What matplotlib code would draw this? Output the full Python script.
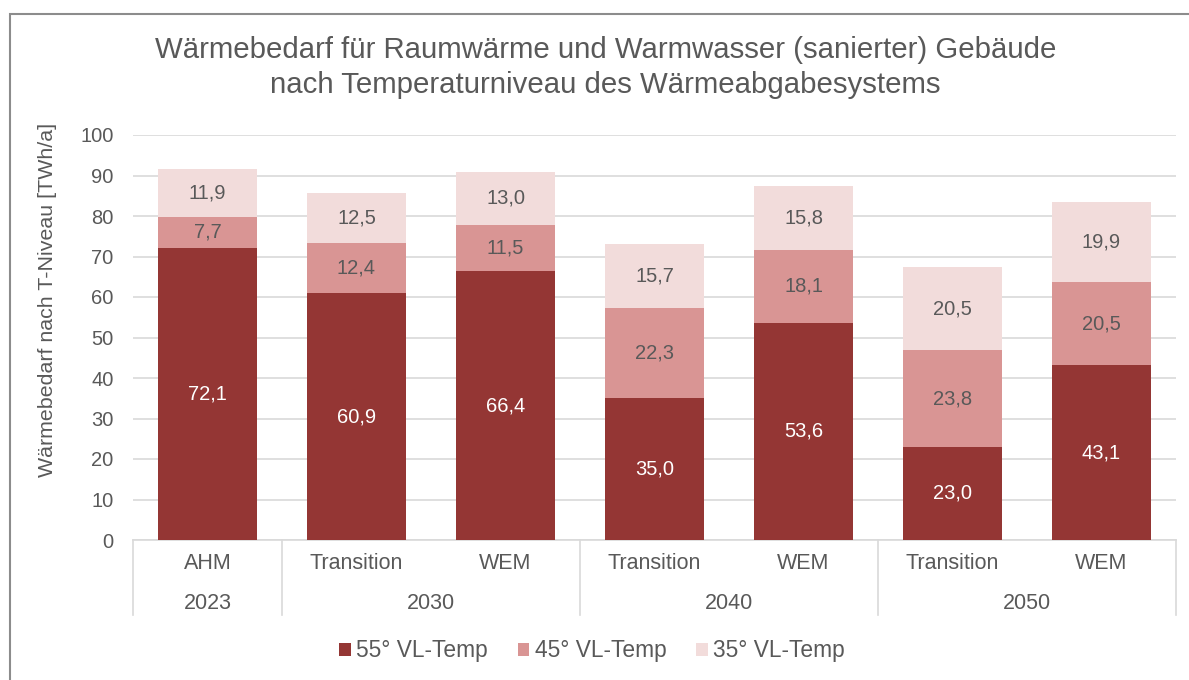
import matplotlib

matplotlib.use("Agg")
import matplotlib.pyplot as plt
from matplotlib.patches import Rectangle

plt.rcParams["font.family"] = ["Liberation Sans", "DejaVu Sans"]

# chart data (TWh/a)
scenarios = ["AHM", "Transition", "WEM", "Transition", "WEM", "Transition", "WEM"]
years = ["2023", "2030", "2040", "2050"]
year_spans = [(0, 0), (1, 2), (3, 4), (5, 6)]
vl55 = [72.1, 60.9, 66.4, 35.0, 53.6, 23.0, 43.1]
vl45 = [7.7, 12.4, 11.5, 22.3, 18.1, 23.8, 20.5]
vl35 = [11.9, 12.5, 13.0, 15.7, 15.8, 20.5, 19.9]
series_names = ["55° VL-Temp", "45° VL-Temp", "35° VL-Temp"]
y_ticks = [0, 10, 20, 30, 40, 50, 60, 70, 80, 90, 100]

TXT = "#595959"
GRID = "#D9D9D9"
colors = ["#943634", "#D99594", "#F2DCDB"]
label_colors = ["white", TXT, TXT]

fig = plt.figure(figsize=(11.89, 6.8), dpi=100)
ax = fig.add_axes([133 / 1189, 1 - 540 / 680, 1043 / 1189, 405 / 680])

x = list(range(len(scenarios)))
bottom = [0.0] * len(x)
for vals, col, lcol, name in zip([vl55, vl45, vl35], colors, label_colors, series_names):
    bars = ax.bar(x, vals, bottom=bottom, width=0.67, color=col, label=name, zorder=3)
    for b, v, b0 in zip(bars, vals, bottom):
        ax.text(b.get_x() + b.get_width() / 2, b0 + v / 2, f"{v:.1f}".replace(".", ","),
                ha="center", va="center", color=lcol, fontsize=14.5, zorder=4)
    bottom = [a + v for a, v in zip(bottom, vals)]

ax.set_xlim(-0.5, len(x) - 0.5)
ax.set_ylim(0, 100)
ax.set_yticks(y_ticks)
ax.tick_params(axis="y", length=0, labelsize=14.5, labelcolor=TXT, pad=14)
ax.set_xticks([])
ax.grid(True, axis="y", color=GRID, linewidth=1.2, zorder=0)
for s in ["top", "right", "left"]:
    ax.spines[s].set_visible(False)
ax.spines["bottom"].set_color(GRID)
ax.spines["bottom"].set_linewidth(1.2)
ax.set_ylabel("Wärmebedarf nach T-Niveau [TWh/a]", fontsize=15.4, color=TXT)
ax.yaxis.set_label_coords(-0.073, 0.593)

# two-level category axis
tr = ax.get_xaxis_transform()
for xi, s in zip(x, scenarios):
    ax.text(xi, -0.057, s, transform=tr, ha="center", va="center", fontsize=15.5, color=TXT)
edges = [-0.5]
for yr, (a, b) in zip(years, year_spans):
    ax.text((a + b) / 2, -0.156, yr, transform=tr, ha="center", va="center", fontsize=15.5, color=TXT)
    edges.append(b + 0.5)
for e in edges:
    ax.plot([e, e], [0, -0.185], transform=tr, color=GRID, linewidth=1.2, clip_on=False)

fig.text(0.509, 1 - 50 / 680, "Wärmebedarf für Raumwärme und Warmwasser (sanierter) Gebäude",
         ha="center", va="center", fontsize=21.2, color=TXT)
fig.text(0.509, 1 - 85 / 680, "nach Temperaturniveau des Wärmeabgabesystems",
         ha="center", va="center", fontsize=21.2, color=TXT)

fig.legend(loc="center", bbox_to_anchor=(0.498, 1 - 651 / 680), ncol=3, frameon=False,
           fontsize=16.4, labelcolor=TXT, handlelength=0.5, handleheight=0.5,
           handletextpad=0.25, columnspacing=1.3)

fig.patches.append(Rectangle((10 / 1189, -0.1), 1.2, 1 - 14 / 680 + 0.1, transform=fig.transFigure,
                             fill=False, edgecolor="#8C8C8C", linewidth=1.5))

fig.savefig("out.png", dpi=100)
